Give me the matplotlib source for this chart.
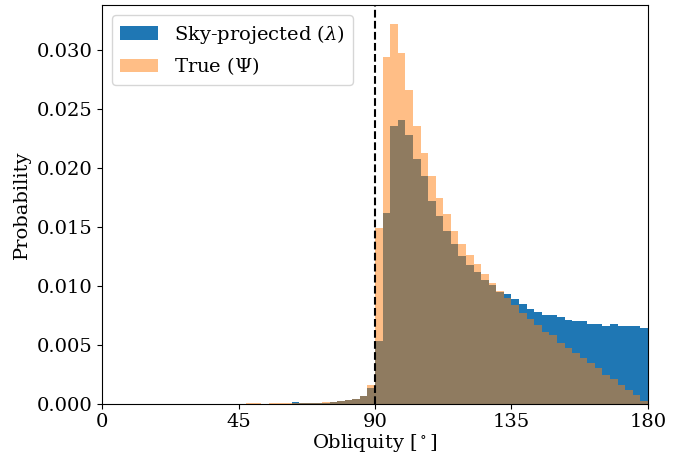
import numpy as np
import matplotlib
matplotlib.use("Agg")
import matplotlib.pyplot as plt
from matplotlib.ticker import FormatStrFormatter

plt.rcParams['font.family'] = ['DejaVu Serif']
plt.rcParams['mathtext.fontset'] = 'dejavuserif'

bin_edges = np.linspace(0, 180, 73)

# Bin heights (probability) for 72 bins of width 2.5 deg, from 0 to 180
sky_projected = [0]*25 + [
    0.00010, 0.00007, 0.00007, 0.00008, 0.00008, 0.00010,   # 62.5 - 77.5
    0.00020, 0.00030, 0.00040, 0.00060, 0.00135,            # 77.5 - 90
    0.00526, 0.01614, 0.02349, 0.02405, 0.02278, 0.02070,   # 90 - 105
    0.01930, 0.01716, 0.01586, 0.01466, 0.01353, 0.01251,   # 105 - 120
    0.01176, 0.01114, 0.01049, 0.01004, 0.00948, 0.00928,   # 120 - 135
    0.00886, 0.00844, 0.00802, 0.00776, 0.00751, 0.00751,   # 135 - 150
    0.00734, 0.00709, 0.00700, 0.00700, 0.00675, 0.00675,   # 150 - 165
    0.00658, 0.00675, 0.00658, 0.00658, 0.00658, 0.00641,   # 165 - 180
]
true_obliquity = [0]*19 + [
    0.00003, 0.00003, 0.0, 0.00002, 0.00002, 0.00002,       # 47.5 - 62.5
    0.00002, 0.00007, 0.00007, 0.00008, 0.00010, 0.00010,   # 62.5 - 77.5
    0.00020, 0.00030, 0.00040, 0.00060, 0.00158,            # 77.5 - 90
    0.01485, 0.02940, 0.03216, 0.02973, 0.02658, 0.02349,   # 90 - 105
    0.02127, 0.01930, 0.01744, 0.01606, 0.01466, 0.01356,   # 105 - 120
    0.01257, 0.01179, 0.01097, 0.01021, 0.00954, 0.00895,   # 120 - 135
    0.00835, 0.00770, 0.00717, 0.00667, 0.00608, 0.00582,   # 135 - 150
    0.00515, 0.00473, 0.00430, 0.00388, 0.00346, 0.00304,   # 150 - 165
    0.00245, 0.00211, 0.00160, 0.00118, 0.00068, 0.00025,   # 165 - 180
]

labels = [r"Sky-projected ($\lambda$)", r"True ($\Psi$)"]
x_ticks = [0, 45, 90, 135, 180]

centers = 0.5 * (bin_edges[:-1] + bin_edges[1:])

fig = plt.figure(figsize=(6.94, 4.62), dpi=100)
ax = fig.add_axes([0.147, 0.1266, 0.7867, 0.8624])

ax.hist(centers, bins=bin_edges, weights=sky_projected, color='C0', label=labels[0])
ax.hist(centers, bins=bin_edges, weights=true_obliquity, color='C1', alpha=0.5, label=labels[1])
ax.axvline(90, color='k', ls='--')

ax.set_xlim(0, 180)
ax.set_ylim(0, 0.03377)
ax.set_xticks(x_ticks)
ax.yaxis.set_major_formatter(FormatStrFormatter('%.3f'))
ax.tick_params(labelsize=14)
ax.set_xlabel(r"Obliquity [$^\circ$]", fontsize=14, labelpad=0.5)
ax.set_ylabel("Probability", fontsize=14)
ax.legend(loc='upper left', fontsize=14)

fig.savefig("out.png", dpi=100)
